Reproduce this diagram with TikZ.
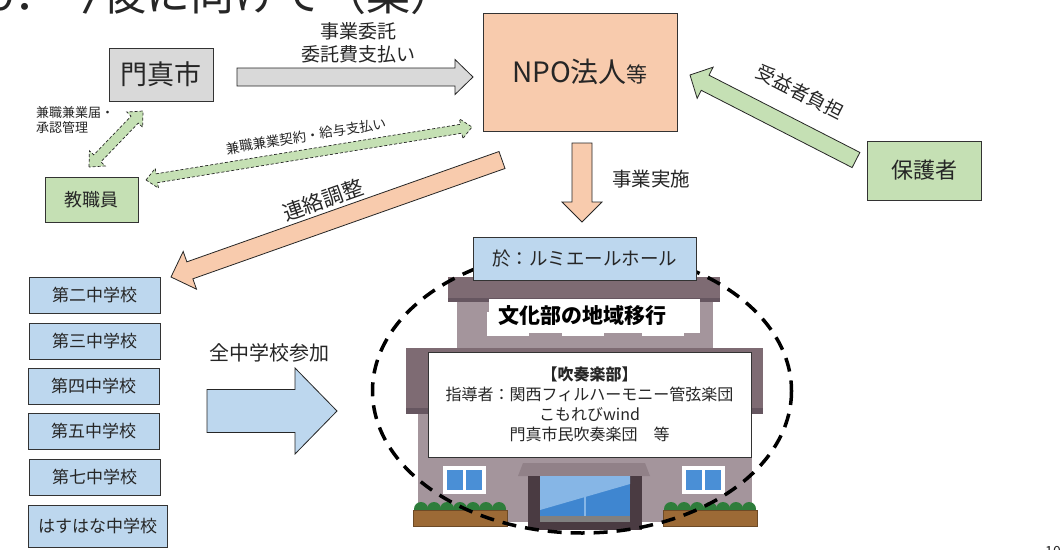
\documentclass[tikz,border=0pt]{standalone}
\usepackage{fontspec}
\setmainfont{Noto Sans CJK JP}
\usepackage{tikz}
\usetikzlibrary{calc,positioning}
\usepackage{xcolor}
\definecolor{cityGray}{HTML}{D9D9D9}
\definecolor{npoOrange}{HTML}{F8CBAD}
\definecolor{staffGreen}{HTML}{C5E0B4}
\definecolor{schoolBlue}{HTML}{BDD7EE}
\definecolor{roofMauve}{HTML}{7E6B73}
\definecolor{roofShade}{HTML}{665660}
\definecolor{wallMauve}{HTML}{A4959C}
\definecolor{paneBlue}{HTML}{4A8FD6}
\definecolor{doorDark}{HTML}{4A3B42}
\definecolor{glassBlue}{HTML}{3F86D0}
\definecolor{glassLight}{HTML}{86B6E6}
\definecolor{soilBrown}{HTML}{9C6A36}
\definecolor{hedgeGreen}{HTML}{2E7D3B}

\newcommand\pfs[2]{\fontsize{#1pt}{#2pt}\selectfont}
% fat arrow: style, tail, tip, half body, half head, head length
\newcommand\blockarrow[6][]{%
  \coordinate (bahead) at ($(#3)!#6!(#2)$);
  \draw[#1] ($(#2)!#4!90:(#3)$) -- ($(bahead)!#4!-90:(#2)$) -- ($(bahead)!#5!-90:(#2)$) -- (#3)
    -- ($(bahead)!#5!90:(#2)$) -- ($(bahead)!#4!90:(#2)$) -- ($(#2)!#4!-90:(#3)$) -- cycle;
}
% fat arrow with a head at both ends
\newcommand\twowayarrow[6][]{%
  \coordinate (twa) at ($(#2)!#6!(#3)$);
  \coordinate (twb) at ($(#3)!#6!(#2)$);
  \draw[#1] (#2) -- ($(twa)!#5!90:(#3)$) -- ($(twa)!#4!90:(#3)$) -- ($(twb)!#4!-90:(#2)$)
    -- ($(twb)!#5!-90:(#2)$) -- (#3) -- ($(twb)!#5!90:(#2)$) -- ($(twb)!#4!90:(#2)$)
    -- ($(twa)!#4!-90:(#3)$) -- ($(twa)!#5!-90:(#3)$) -- cycle;
}

\begin{document}
\begin{tikzpicture}[x=1pt, y=-1pt,
  box/.style={draw=black!80, line width=0.9pt, inner sep=0pt, align=center, text=black!85},
  schoolbox/.style={box, fill=schoolBlue, minimum width=131, minimum height=36, font=\pfs{17}{20}},
  lbl/.style={inner sep=0pt, align=center, text=black!85},
  arrowline/.style={draw=black!85, line width=0.8pt},
  dualline/.style={draw=black!85, line width=0.7pt, dash pattern=on 3pt off 2pt, fill=staffGreen}]
  \useasboundingbox (0,0) rectangle (1063,549);
  \fill[white] (0,0) rectangle (1063,549);
  \clip (0,0) rectangle (1063,549);

  \node[anchor=base west, inner sep=0pt, font=\pfs{44}{50}, text=black!85] (heading) at (-10,10) {9．今後に向けて（案）};
  \node[anchor=north, inner sep=0pt, font=\pfs{14}{16}, text=black!85] (pageno) at (1053,546) {10};

  \node[box, fill=cityGray, minimum width=104, minimum height=53, font=\pfs{27}{32}] (city) at (161,74.5) {門真市};
  \node[box, fill=npoOrange, minimum width=194, minimum height=118, font=\pfs{28}{32}] (npo) at (580,72) {NPO法人{\pfs{21}{25}等}};
  \node[box, fill=staffGreen, minimum width=114, minimum height=59, font=\pfs{22}{26}] (guard) at (924,170.5) {保護者};
  \node[box, fill=staffGreen, minimum width=93, minimum height=45, font=\pfs{18}{22}] (staff) at (91.5,199.5) {教職員};

  \node[schoolbox] (sch2) at (94.5,295) {第二中学校};
  \node[schoolbox] (sch3) at (94.5,341) {第三中学校};
  \node[schoolbox] (sch4) at (93.5,386.5) {第四中学校};
  \node[schoolbox] (sch5) at (93.5,431.5) {第五中学校};
  \node[schoolbox] (sch7) at (94.5,477.5) {第七中学校};
  \node[schoolbox, minimum width=139, minimum height=42] (schH) at (97.5,526) {はすはな中学校};

  \coordinate (cityOut) at (237,77);
  \coordinate (npoIn) at (473,77);
  \coordinate (npoOut) at (582,143);
  \coordinate (hallIn) at (582,222);
  \coordinate (guardOut) at (856,160);
  \coordinate (npoFee) at (690,75);
  \coordinate (npoLink) at (502,160);
  \coordinate (schoolIn) at (171,277);
  \coordinate (schoolsOut) at (207,411);
  \coordinate (hallJoin) at (337,411);
  \coordinate (cityDual) at (143,111);
  \coordinate (staffDual) at (89,167);
  \coordinate (staffPay) at (146,180);
  \coordinate (npoPay) at (472,127);

  \blockarrow[arrowline, fill=cityGray]{cityOut}{npoIn}{9pt}{17.5pt}{18pt}
  \blockarrow[arrowline, fill=npoOrange]{npoOut}{hallIn}{10pt}{20pt}{20pt}
  \blockarrow[arrowline, fill=staffGreen]{guardOut}{npoFee}{8.5pt}{17.5pt}{17pt}
  \blockarrow[arrowline, fill=npoOrange]{npoLink}{schoolIn}{9pt}{20pt}{20pt}
  \blockarrow[arrowline, fill=schoolBlue]{schoolsOut}{hallJoin}{21.5pt}{43pt}{42pt}
  \twowayarrow[dualline]{staffDual}{cityDual}{5pt}{11pt}{12pt}
  \twowayarrow[dualline]{staffPay}{npoPay}{4.5pt}{10pt}{11pt}

  \node[lbl, font=\pfs{19}{23}] (entrust) at (358,43) {事業委託\\委託費支払い};
  \node[lbl, font=\pfs{13}{15}, align=left, anchor=west] (permit) at (36,120.5) {兼職兼業届・\\承認管理};
  \node[lbl, font=\pfs{13.5}{16}, rotate=9.3] (contract) at (306,136) {兼職兼業契約・給与支払い};
  \node[lbl, font=\pfs{21}{25}, rotate=19.5] (liaison) at (323,200) {連絡調整};
  \node[lbl, font=\pfs{19.5}{23}] (run) at (651,179) {事業実施};
  \node[lbl, font=\pfs{19}{23}, rotate=-27] (benefit) at (800,92) {受益者負担};
  \node[lbl, font=\pfs{20}{24}] (allin) at (269,353) {全中学校参加};

  % hall building
  \fill[roofMauve] (448,277) rectangle (720,302);
  \fill[roofShade] (448,298) rectangle (720,302);
  \fill[wallMauve] (457,302) rectangle (713,348);
  \foreach \wx in {487,562,642} {
    \fill[white] (\wx,312) rectangle ++(42,24);
    \fill[paneBlue] (\wx+4,316) rectangle ++(16,16);
    \fill[paneBlue] (\wx+22,316) rectangle ++(16,16);
  }
  \fill[roofMauve] (406,348) rectangle (763,414);
  \fill[roofShade] (406,408) rectangle (763,414);
  \fill[wallMauve] (418,414) rectangle (752,522);
  \foreach \wx in {443,682} {
    \fill[white] (\wx,466) rectangle ++(43,28);
    \fill[paneBlue] (\wx+4,470) rectangle ++(16,20);
    \fill[paneBlue] (\wx+23,470) rectangle ++(16,20);
  }
  \fill[roofMauve!85] (523,463) -- (645,463) -- (650,476) -- (518,476) -- cycle;
  \fill[doorDark] (528,476) rectangle (642,530);
  \fill[glassBlue] (540,476) rectangle (630,518);
  \fill[glassLight] (540,476) -- (630,476) -- (630,484) -- (540,510) -- cycle;
  \draw[glassLight, line width=2] (585,476) -- (585,518);
  \fill[gray] (540,516) rectangle (630,522);
  \foreach \px in {413,663} {
    \foreach \k in {0,...,6}
      \fill[hedgeGreen] (\px+8+\k*13,509) circle (7);
    \fill[soilBrown] (\px,510) rectangle ++(94,16);
    \draw[soilBrown!70!black, line width=0.6] (\px,510) rectangle ++(94,16);
  }

  \node[fill=white, minimum width=211, minimum height=34, inner xsep=9pt, inner ysep=0pt, text width=193, align=left, font=\bfseries\pfs{21}{25}] (move) at (594.5,316) {文化部の地域移行};
  \node[box, fill=white, minimum width=323, minimum height=105, font=\pfs{16}{20}] (club) at (589.5,404.5) {{\bfseries 【吹奏楽部】}\\指導者：関西フィルハーモニー管弦楽団\\こもれびwind\\門真市民吹奏楽団　等};

  \draw[black, line width=3.5pt, dash pattern=on 14pt off 9pt] (582,391) ellipse [x radius=209.5, y radius=142];

  \node[box, fill=schoolBlue, minimum width=223, minimum height=43, font=\pfs{18.5}{22}] (venue) at (584.5,258.5) {於：ルミエールホール};
\end{tikzpicture}
\end{document}
